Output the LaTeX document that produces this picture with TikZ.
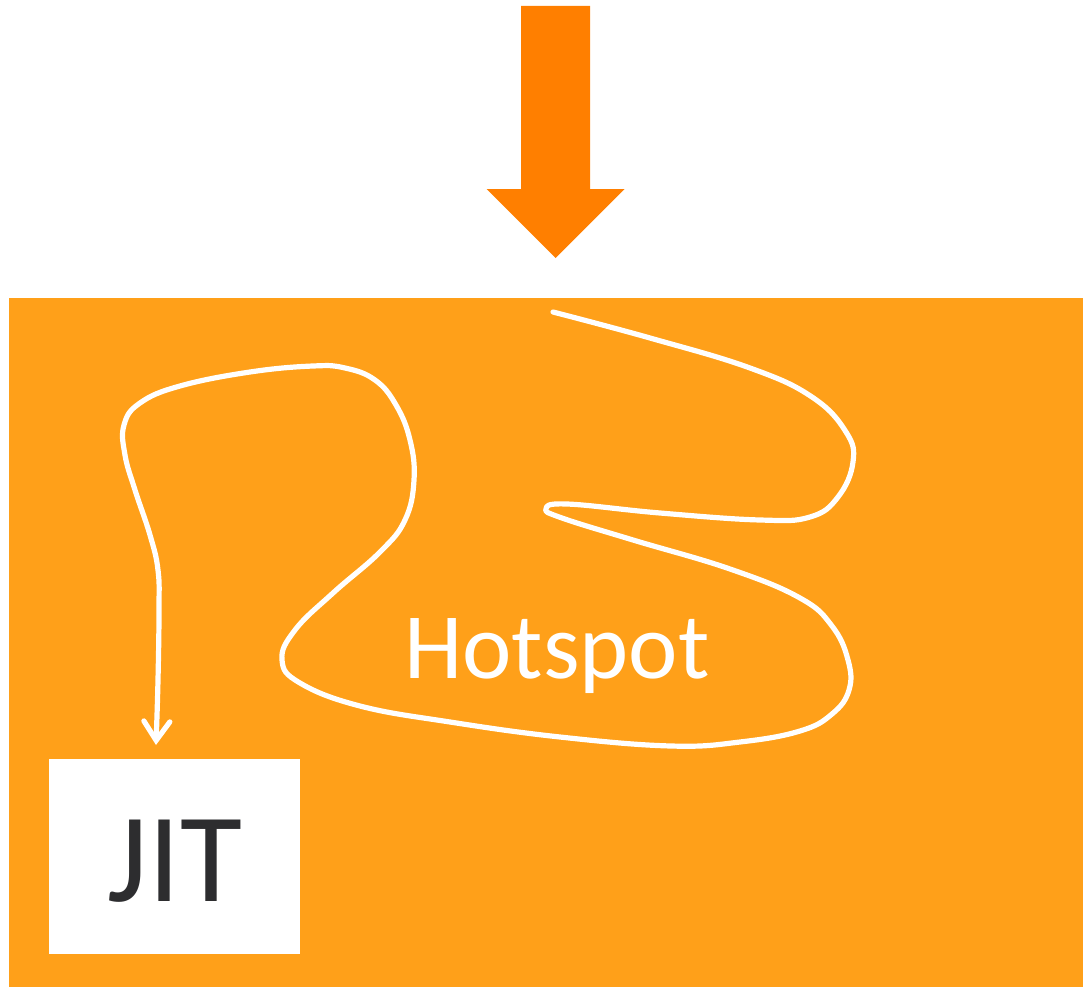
\documentclass[tikz,border=0pt]{standalone}
\usepackage{fontspec}
\setmainfont{Carlito}
\usetikzlibrary{arrows.meta}
\definecolor{arrowor}{HTML}{FF7F00}
\definecolor{boxor}{HTML}{FFA019}
\definecolor{jitgray}{HTML}{2D2D2F}
\tikzset{
  flow/.style={draw=white, line width=5.2pt, line cap=round, line join=round},
  jitbox/.style={fill=white, draw=none, minimum width=251pt, minimum height=195pt, inner sep=0pt},
}
\begin{document}
\begin{tikzpicture}[x=1pt,y=-1pt]
\useasboundingbox (0,0) rectangle (1083,987);
% big orange arrow
\fill[arrowor] (521,6) -- (590,6) -- (590,189) -- (624.5,189) -- (555.5,258) -- (486.5,189) -- (521,189) -- cycle;
% background area
\fill[boxor] (9,298) rectangle (1083,987);
% JIT box
\node[jitbox] (jit) at (174.5,856) {};
\node[anchor=base, text=jitgray, inner sep=0pt] (jittext) at (175,901)
  {\fontsize{127}{130}\selectfont JIT};
% Hotspot label
\node[anchor=base, text=white, inner sep=0pt] (hot) at (557,678)
  {\fontsize{93.5}{100}\selectfont Hotspot};
% winding path
\coordinate (start) at (553,312);
\coordinate (endp) at (156,745);
\draw[flow, -{Straight Barb[length=19pt,width=26pt,line cap=round]}]
  plot[smooth, tension=0.7] coordinates {
  (553,312) (650,338) (750,368) (812,397) (846,432) (853,462) (838,497)
  (810,517) (760,520) (660,513) (567,504) (546,509) (562,518) (633,540)
  (730,569) (800,598) (832,626) (848,660) (849,690) (832,714) (800,731)
  (740,742) (671,746) (560,737) (450,722) (360,706) (300,683) (282,660)
  (295,630) (333,593) (380,552) (405,520) (414,480) (410,440) (396,405)
  (375,380) (345,368) (313,366) (250,372) (180,386) (140,403) (124,425)
  (125,455) (135,490) (150,535) (158,570) (159,610) (158,680) (156,745)};
\end{tikzpicture}
\end{document}
